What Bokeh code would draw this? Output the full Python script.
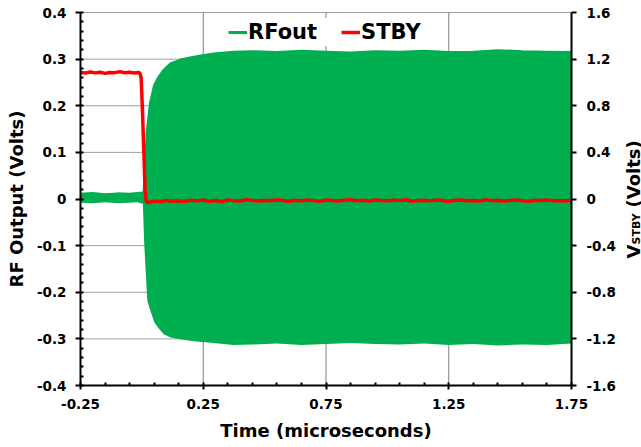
import math
from bokeh.plotting import figure
from bokeh.models import (Range1d, LinearAxis, FixedTicker, Legend, LegendItem,
                          ColumnDataSource)
from bokeh.core.properties import value
from bokeh.embed import file_html
from bokeh.resources import INLINE

FONT = "DejaVu Sans"
GREEN = "#00B050"
RED = "#FF0000"

# ---- axis ticks ----
x_ticks = [-0.25, 0.25, 0.75, 1.25, 1.75]
x_tick_labels = ["-0.25", "0.25", "0.75", "1.25", "1.75"]
x_grid = [0.25, 0.75, 1.25]
x_minor = [-0.15, -0.05, 0.05, 0.15, 0.35, 0.45, 0.55, 0.65, 0.85, 0.95,
           1.05, 1.15, 1.35, 1.45, 1.55, 1.65]
y_ticks = [-0.4, -0.3, -0.2, -0.1, 0, 0.1, 0.2, 0.3, 0.4]
y_tick_labels = ["-0.4", "-0.3", "-0.2", "-0.1", "0", "0.1", "0.2", "0.3", "0.4"]
y_minor = [-0.38, -0.36, -0.34, -0.32, -0.28, -0.26, -0.24, -0.22, -0.18, -0.16,
           -0.14, -0.12, -0.08, -0.06, -0.04, -0.02, 0.02, 0.04, 0.06, 0.08,
           0.12, 0.14, 0.16, 0.18, 0.22, 0.24, 0.26, 0.28, 0.32, 0.34, 0.36, 0.38]
y2_ticks = [-1.6, -1.2, -0.8, -0.4, 0, 0.4, 0.8, 1.2, 1.6]
y2_tick_labels = ["-1.6", "-1.2", "-0.8", "-0.4", "0", "0.4", "0.8", "1.2", "1.6"]

# ---- RF output envelope (Volts, left axis) ----
t_rf = [-0.25, -0.20, -0.15, -0.10, -0.05, -0.02, 0.004, 0.009, 0.013, 0.022,
        0.035, 0.051, 0.069, 0.089, 0.117, 0.157, 0.211, 0.292, 0.373, 0.45,
        0.55, 0.65, 0.75, 0.85, 0.95, 1.05, 1.15, 1.25, 1.35, 1.45, 1.55, 1.65, 1.75]
rf_upper = [0.010, 0.012, 0.009, 0.011, 0.010, 0.012, 0.013, 0.015, 0.060, 0.145,
            0.205, 0.243, 0.261, 0.276, 0.290, 0.298, 0.304, 0.311, 0.315, 0.316,
            0.314, 0.317, 0.315, 0.313, 0.316, 0.315, 0.317, 0.314, 0.315, 0.318,
            0.316, 0.315, 0.314]
rf_lower = [-0.008, -0.009, -0.007, -0.009, -0.008, -0.007, -0.010, -0.090, -0.130, -0.218,
            -0.240, -0.265, -0.278, -0.290, -0.297, -0.301, -0.305, -0.309, -0.313, -0.312,
            -0.310, -0.313, -0.311, -0.309, -0.311, -0.312, -0.310, -0.313, -0.311, -0.314,
            -0.312, -0.313, -0.310]

# ---- STBY voltage (Volts, right axis) ----
t_stby = [-0.25, -0.23, -0.21, -0.19, -0.17, -0.15, -0.13, -0.11, -0.09, -0.07,
          -0.05, -0.03, -0.015, -0.008, -0.003, 0.002, 0.008, 0.013, 0.018,
          0.025, 0.05, 0.075, 0.1, 0.125, 0.15, 0.175, 0.2, 0.225, 0.25,
          0.275, 0.3, 0.325, 0.35, 0.375, 0.4, 0.425, 0.45, 0.475, 0.5,
          0.525, 0.55, 0.575, 0.6, 0.625, 0.65, 0.675, 0.7, 0.725, 0.75,
          0.775, 0.8, 0.825, 0.85, 0.875, 0.9, 0.925, 0.95, 0.975, 1.0,
          1.025, 1.05, 1.075, 1.1, 1.125, 1.15, 1.175, 1.2, 1.225, 1.25,
          1.275, 1.3, 1.325, 1.35, 1.375, 1.4, 1.425, 1.45, 1.475, 1.5,
          1.525, 1.55, 1.575, 1.6, 1.625, 1.65, 1.675, 1.7, 1.725, 1.75]
v_stby = [1.085, 1.080, 1.090, 1.082, 1.088, 1.078, 1.086, 1.084, 1.092, 1.083,
          1.087, 1.081, 1.086, 1.080, 1.040, 0.780, 0.400, 0.080, -0.025,
          -0.030, -0.018, -0.024, -0.012, -0.020, -0.015, -0.022, -0.010, -0.016, -0.008,
          -0.019, -0.013, -0.021, -0.009, -0.014, -0.017, -0.006, -0.012, -0.018, -0.010,
          -0.015, -0.007, -0.013, -0.019, -0.011, -0.016, -0.008, -0.014, -0.020, -0.009,
          -0.012, -0.017, -0.010, -0.006, -0.015, -0.011, -0.018, -0.008, -0.013, -0.016,
          -0.009, -0.014, -0.007, -0.019, -0.012, -0.010, -0.016, -0.008, -0.013, -0.021,
          -0.011, -0.009, -0.015, -0.012, -0.018, -0.007, -0.014, -0.010, -0.017, -0.012,
          -0.008, -0.015, -0.020, -0.011, -0.013, -0.009, -0.016, -0.012, -0.018, -0.010]

# right-hand axis title pieces (text, size)
r_title = [("V", "18px"), ("STBY", "11px"), ("(Volts)", "18px")]

X0, X1 = -0.25, 1.75          # data extent of the time axis
Y0, Y1 = -0.4, 0.4            # data extent of the RF axis
S0, S1 = -1.6, 1.6            # data extent of the STBY axis
PX_PER_X = 245.5              # pixels per microsecond
PX_PER_Y = 466.25             # pixels per volt (left axis)
W, H = 641, 447
PL, PT, PB = 80, 12, 385      # left edge, top and bottom of the plotted area (px)

# the frame covers the whole canvas; every axis is pinned to the edge of the data area
x_start = X0 - PL / PX_PER_X
x_end = X0 + (W - PL) / PX_PER_X
y_top = Y1 + PT / PX_PER_Y
y_bot = Y0 - (H - PB) / PX_PER_Y
k = (S1 - S0) / (Y1 - Y0)

p = figure(width=W, height=H, x_range=Range1d(x_start, x_end), y_range=Range1d(y_bot, y_top),
           output_backend="svg", toolbar_location=None,
           min_border_left=0, min_border_right=0, min_border_top=0, min_border_bottom=0)
p.extra_y_ranges = {"stby": Range1d(y_bot * k, y_top * k)}
p.outline_line_color = None
p.xgrid.visible = False
p.ygrid.visible = False

# grid lines, limited to the plotted area
p.segment(x0=[X0] * len(y_ticks), y0=y_ticks, x1=[X1] * len(y_ticks), y1=y_ticks,
          line_color="#a0a0a0", line_width=1)
p.segment(x0=x_grid, y0=[Y0] * len(x_grid), x1=x_grid, y1=[Y1] * len(x_grid),
          line_color="#808080", line_width=1)


def style_axis(ax):
    ax.axis_line_color = "black"
    ax.axis_line_width = 2
    ax.major_tick_line_color = "black"
    ax.major_tick_line_width = 2
    ax.minor_tick_line_color = "black"
    ax.minor_tick_line_width = 2
    ax.major_label_text_font = FONT
    ax.major_label_text_font_style = "bold"
    ax.major_label_text_font_size = "13.5px"
    ax.major_label_text_color = "black"
    ax.axis_label_text_font = FONT
    ax.axis_label_text_font_style = "bold"
    ax.axis_label_text_font_size = "18px"
    ax.axis_label_text_color = "black"


xa = p.xaxis[0]
xa.ticker = FixedTicker(ticks=x_ticks, minor_ticks=x_minor)
xa.major_label_overrides = dict(zip(x_ticks, x_tick_labels))
xa.bounds = (X0, X1)
xa.fixed_location = Y0
style_axis(xa)
xa.major_tick_in = 3
xa.major_tick_out = 4
xa.minor_tick_in = 3
xa.minor_tick_out = 0
xa.major_label_standoff = 9
xa.axis_label = "Time (microseconds)"
xa.axis_label_standoff = 8

ya = p.yaxis[0]
ya.ticker = FixedTicker(ticks=y_ticks, minor_ticks=y_minor)
ya.major_label_overrides = dict(zip(y_ticks, y_tick_labels))
ya.bounds = (Y0, Y1)
ya.fixed_location = X0
style_axis(ya)
ya.major_tick_in = 3
ya.major_tick_out = 5
ya.minor_tick_in = 3
ya.minor_tick_out = 0
ya.major_label_standoff = 9
ya.axis_label = "RF Output (Volts)"
ya.axis_label_standoff = 7

ya2 = LinearAxis(y_range_name="stby", fixed_location=X1, bounds=(S0, S1),
                 ticker=FixedTicker(ticks=y2_ticks, minor_ticks=[]))
ya2.major_label_overrides = dict(zip(y2_ticks, y2_tick_labels))
style_axis(ya2)
ya2.major_tick_in = 0
ya2.major_tick_out = 5
ya2.minor_tick_in = 0
ya2.minor_tick_out = 0
ya2.major_label_standoff = 10
p.add_layout(ya2, "right")

# data
rf_src = ColumnDataSource(dict(t=t_rf, up=rf_upper, lo=rf_lower))
rf_key = p.line(x="t", y="up", source=rf_src, line_color=GREEN, line_width=3)
p.varea(x="t", y1="lo", y2="up", source=rf_src, fill_color=GREEN, fill_alpha=1.0)

st_src = ColumnDataSource(dict(t=t_stby, v=v_stby))
st_line = p.line(x="t", y="v", source=st_src, y_range_name="stby",
                 line_color=RED, line_width=3.5)

legend = Legend(items=[LegendItem(label="RFout", renderers=[rf_key]),
                       LegendItem(label="STBY", renderers=[st_line])],
                location=(226, 401), orientation="horizontal",
                border_line_alpha=0, background_fill_color="white", background_fill_alpha=1,
                label_text_font=FONT, label_text_font_style="bold",
                label_text_font_size="21px", label_text_color="black",
                glyph_width=19, glyph_height=20, label_standoff=1, spacing=24,
                padding=2, margin=0, label_height=20)
p.add_layout(legend)


# right axis title "V_STBY (Volts)", written just right of the STBY tick labels
def x_at(px):
    return X0 + (px - PL) / PX_PER_X


def y_at(py):
    return Y1 - (py - PT) / PX_PER_Y


title_src = ColumnDataSource(dict(
    x=[x_at(633), x_at(636), x_at(633)],
    y=[y_at(258), y_at(244), y_at(207)],
    text=[t for t, _ in r_title],
    size=[s for _, s in r_title],
))
p.text(x="x", y="y", text="text", source=title_src, angle=math.pi / 2,
       text_align="left", text_baseline="alphabetic", text_font=value(FONT),
       text_font_style="bold", text_font_size="size", text_color="black")

open("out.html", "w").write(file_html(p, INLINE))
